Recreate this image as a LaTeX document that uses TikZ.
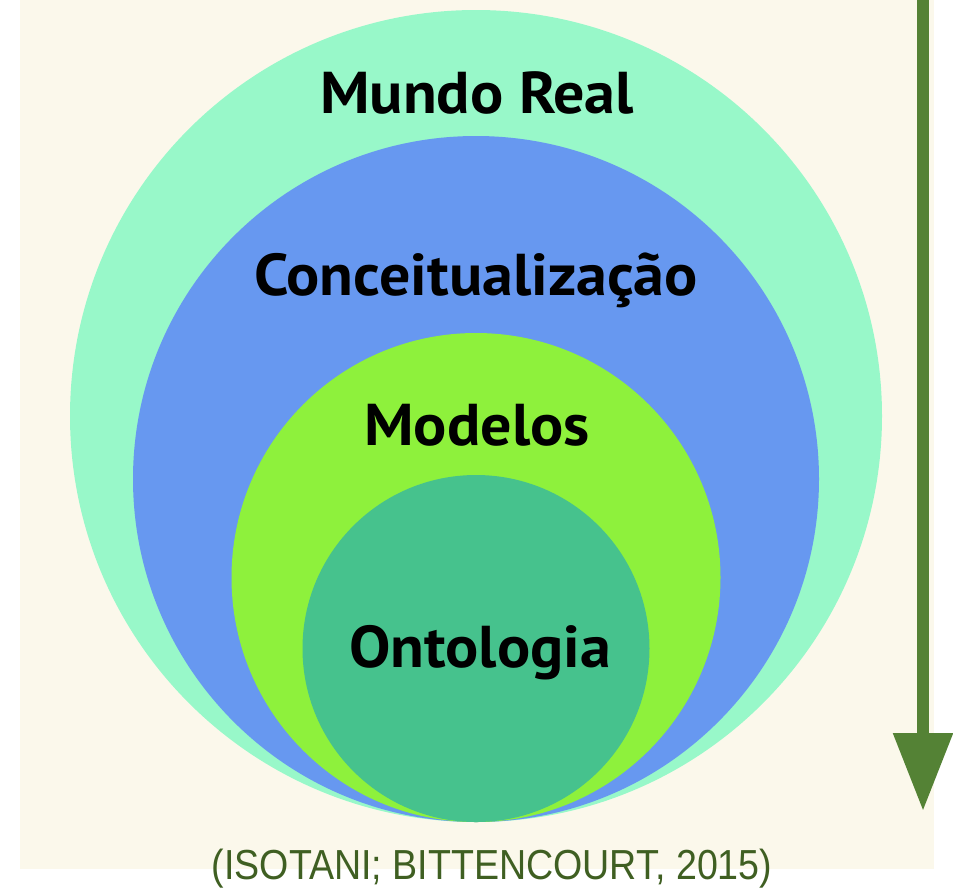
\documentclass[tikz,border=0pt]{standalone}
\usepackage{fontspec}
\setmainfont{PT Sans}
\newfontfamily\capfont{Liberation Sans}
\usetikzlibrary{arrows.meta}
\definecolor{cream}{HTML}{FBF8EB}
\definecolor{mint}{HTML}{98F8C9}
\definecolor{cblue}{HTML}{6798F0}
\definecolor{lime}{HTML}{8EF13C}
\definecolor{teal}{HTML}{46C28D}
\definecolor{arrowgreen}{HTML}{548235}
\definecolor{capgreen}{HTML}{3F5F22}
\tikzset{
  ring/.style={circle, inner sep=0pt, minimum size=#1},
  label/.style={font=\fontsize{59}{62}\selectfont\bfseries, text=black, anchor=base, inner sep=0pt, xscale=1.05},
}
\begin{document}
\begin{tikzpicture}[x=1pt,y=-1pt]
\useasboundingbox (0,0) rectangle (953,887);
\fill[white] (0,0) rectangle (953,887);
\fill[cream] (20,0) rectangle (934,869);
\node[ring=812pt, fill=mint] (outer) at (476,416) {};
\node[ring=686pt, fill=cblue] (concept) at (476,479) {};
\node[ring=489pt, fill=lime] (models) at (476,577.5) {};
\node[ring=347pt, fill=teal] (onto) at (476,648.5) {};
\node[label] (tmundo) at (477,113) {Mundo Real};
\node[label] (tconc) at (476,295) {Conceitualização};
\node[label] (tmod) at (477,445) {Modelos};
\node[label] (tonto) at (480,667) {Ontologia};
\coordinate (astart) at (923,0);
\coordinate (aend) at (923,811);
\draw[arrowgreen, line width=12pt, -{Triangle[width=57pt,length=78pt]}] (astart) -- (aend);
\node[font=\capfont\fontsize{42}{44}\selectfont, text=capgreen, anchor=base, inner sep=0pt, xscale=0.895] (cap) at (492,879) {(ISOTANI; BITTENCOURT, 2015)};
\end{tikzpicture}
\end{document}
